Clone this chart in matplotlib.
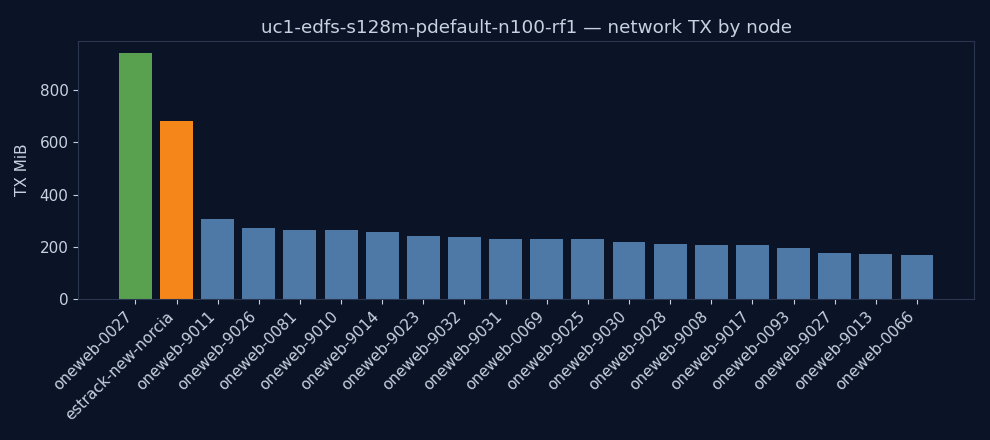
import numpy as np
import matplotlib
matplotlib.use("Agg")
import matplotlib.pyplot as plt

# TX per node (MiB)
nodes = ["oneweb-0027", "estrack-new-norcia", "oneweb-9011", "oneweb-9026",
         "oneweb-0081", "oneweb-9010", "oneweb-9014", "oneweb-9023",
         "oneweb-9032", "oneweb-9031", "oneweb-0069", "oneweb-9025",
         "oneweb-9030", "oneweb-9028", "oneweb-9008", "oneweb-9017",
         "oneweb-0093", "oneweb-9027", "oneweb-9013", "oneweb-0066"]
tx_mib = [941, 681, 306, 272, 264, 264, 257, 241, 237, 230,
          230, 230, 218, 210, 207, 207, 195, 176, 172, 168]

bg = "#0b1426"
fg = "#c9d1e0"
edge = "#2a3550"

# first bar green, second orange, the rest blue
colors = ["#59a14f", "#f5871a"] + ["#4e79a7"] * (len(nodes) - 2)

fig, ax = plt.subplots(figsize=(9.9, 4.4), dpi=100)
fig.patch.set_facecolor(bg)
ax.set_facecolor(bg)

x = np.arange(len(nodes))
ax.bar(x, tx_mib, color=colors, width=0.8)

ax.set_xticks(x)
ax.set_xticklabels(nodes, rotation=45, ha="right")
ax.set_ylabel("TX MiB", color=fg, fontsize=11)
ax.yaxis.set_label_coords(-0.054, 0.5)
ax.set_title("uc1-edfs-s128m-pdefault-n100-rf1 \u2014 network TX by node",
             color=fg, fontsize=13.2)

ax.tick_params(colors=fg, labelsize=11)
for s in ax.spines.values():
    s.set_color(edge)

fig.subplots_adjust(left=0.079, right=0.984, top=0.907, bottom=0.32)
fig.savefig("out.png", facecolor=bg)
